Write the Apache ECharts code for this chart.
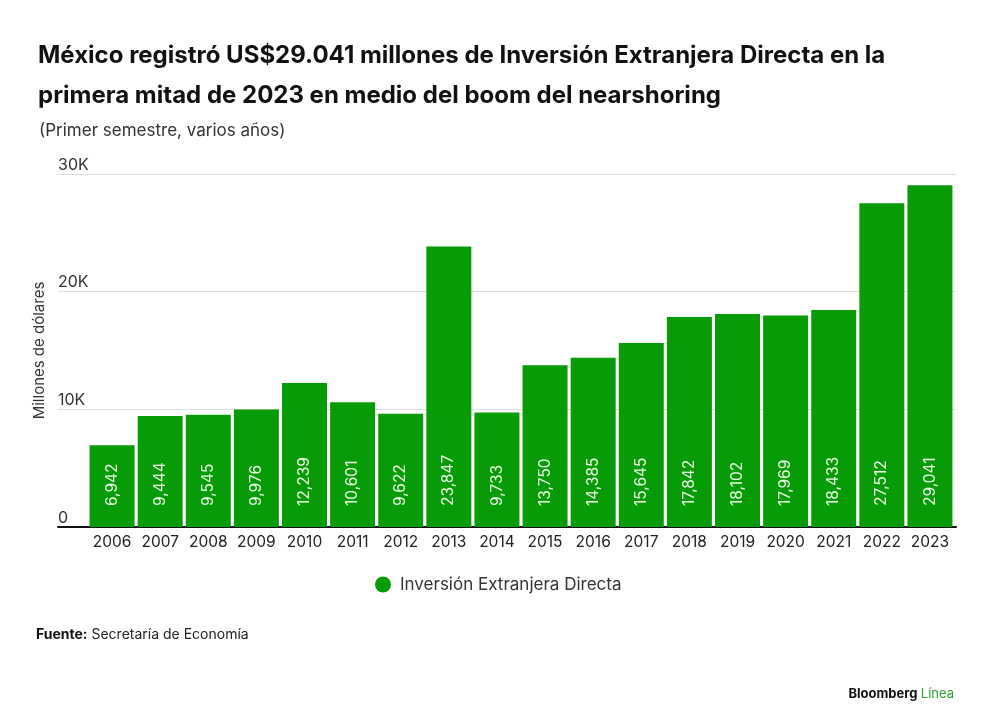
<!DOCTYPE html>
<html>
  <head>
    <meta charset="UTF-8" />
    <title>IED México</title>
    <script src="https://cdn.jsdelivr.net/npm/echarts@6.0.0/dist/echarts.min.js"></script>
    <style>
      body { margin: 0; background: #fff; }
    </style>
  </head>
  <body>
    <div id="chart" style="width: 1000px; height: 727px"></div>
  </body>
  <script>
// data (millones de dólares, primer semestre)
const years = ['2006', '2007', '2008', '2009', '2010', '2011', '2012', '2013', '2014',
  '2015', '2016', '2017', '2018', '2019', '2020', '2021', '2022', '2023'];
const iedValues = [6942, 9444, 9545, 9976, 12239, 10601, 9622, 23847, 9733,
  13750, 14385, 15645, 17842, 18102, 17969, 18433, 27512, 29041];
const yTickLabels = { 0: '0', 10000: '10K', 20000: '20K', 30000: '30K' };

const GREEN = '#079b07';
const FONT = 'Inter, "Noto Sans", sans-serif';

let chart = echarts.init(document.getElementById('chart'));

chart.setOption({
  animation: false,
  textStyle: { fontFamily: FONT },
  title: [
    {
      text: 'México registró US$29.041 millones de Inversión Extranjera Directa en la\nprimera mitad de 2023 en medio del boom del nearshoring',
      left: 33, top: 31,
      textStyle: { fontSize: 24, fontWeight: 'bold', color: '#111', lineHeight: 40, fontFamily: FONT }
    },
    {
      text: '(Primer semestre, varios años)',
      left: 34, top: 117,
      textStyle: { fontSize: 17, fontWeight: 'normal', color: '#333', fontFamily: FONT }
    }
  ],
  legend: {
    bottom: 129,
    left: 370,
    icon: 'circle',
    itemWidth: 16, itemHeight: 16,
    textStyle: { fontSize: 17, color: '#333', fontFamily: FONT, padding: [0, 0, 0, 4] }
  },
  grid: [
    { left: 58, right: 44, top: 174, bottom: 200 },
    { left: 88, right: 46, top: 174, bottom: 200 }
  ],
  xAxis: [
    {
      gridIndex: 0, type: 'value', min: 0, max: 1,
      axisLine: { show: true, onZero: false, lineStyle: { color: '#111', width: 2 } },
      axisTick: { show: false }, axisLabel: { show: false }, splitLine: { show: false }
    },
    {
      gridIndex: 1, type: 'category', data: years,
      axisLine: { show: false }, axisTick: { show: false },
      axisLabel: { fontSize: 15.5, color: '#222', margin: 7, interval: 0 }
    }
  ],
  yAxis: [
    {
      gridIndex: 0, type: 'value', min: 0, max: 30000, interval: 10000,
      name: 'Millones de dólares', nameLocation: 'middle', nameGap: 8,
      nameTextStyle: { fontSize: 15, color: '#333' },
      axisLine: { show: false }, axisTick: { show: false },
      axisLabel: {
        inside: true, margin: 0, verticalAlign: 'bottom', padding: [0, 0, 1, 0],
        fontSize: 16, color: '#333',
        formatter: v => yTickLabels[v]
      },
      splitLine: { lineStyle: { color: '#dddddd', width: 1 } }
    },
    {
      gridIndex: 1, type: 'value', min: 0, max: 30000, interval: 10000,
      show: false, splitLine: { show: false }
    }
  ],
  series: [
    {
      name: 'Inversión Extranjera Directa',
      type: 'bar',
      xAxisIndex: 1, yAxisIndex: 1,
      data: iedValues,
      barCategoryGap: '6.5%',
      itemStyle: { color: GREEN },
      label: {
        show: true,
        position: 'insideBottom',
        distance: 21,
        rotate: 90,
        align: 'left',
        verticalAlign: 'middle',
        color: '#e9fbe4',
        fontSize: 15.5,
        formatter: p => p.value.toLocaleString('en-US')
      }
    }
  ],
  graphic: [
    {
      type: 'text', left: 36, top: 628,
      style: {
        text: '{b|Fuente:} Secretaría de Economía',
        rich: {
          b: { fontWeight: 'bold', fontSize: 14, fill: '#111', fontFamily: FONT }
        },
        fontSize: 14, fill: '#222', fontFamily: FONT
      }
    },
    {
      type: 'text', right: 46, top: 688,
      style: {
        text: '{b|Bloomberg} {g|Línea}',
        rich: {
          b: { fontWeight: 'bold', fontSize: 13, fill: '#111', fontFamily: FONT },
          g: { fontSize: 13, fill: '#2ca02c', fontFamily: FONT }
        }
      }
    }
  ]
});
  </script>
</html>
